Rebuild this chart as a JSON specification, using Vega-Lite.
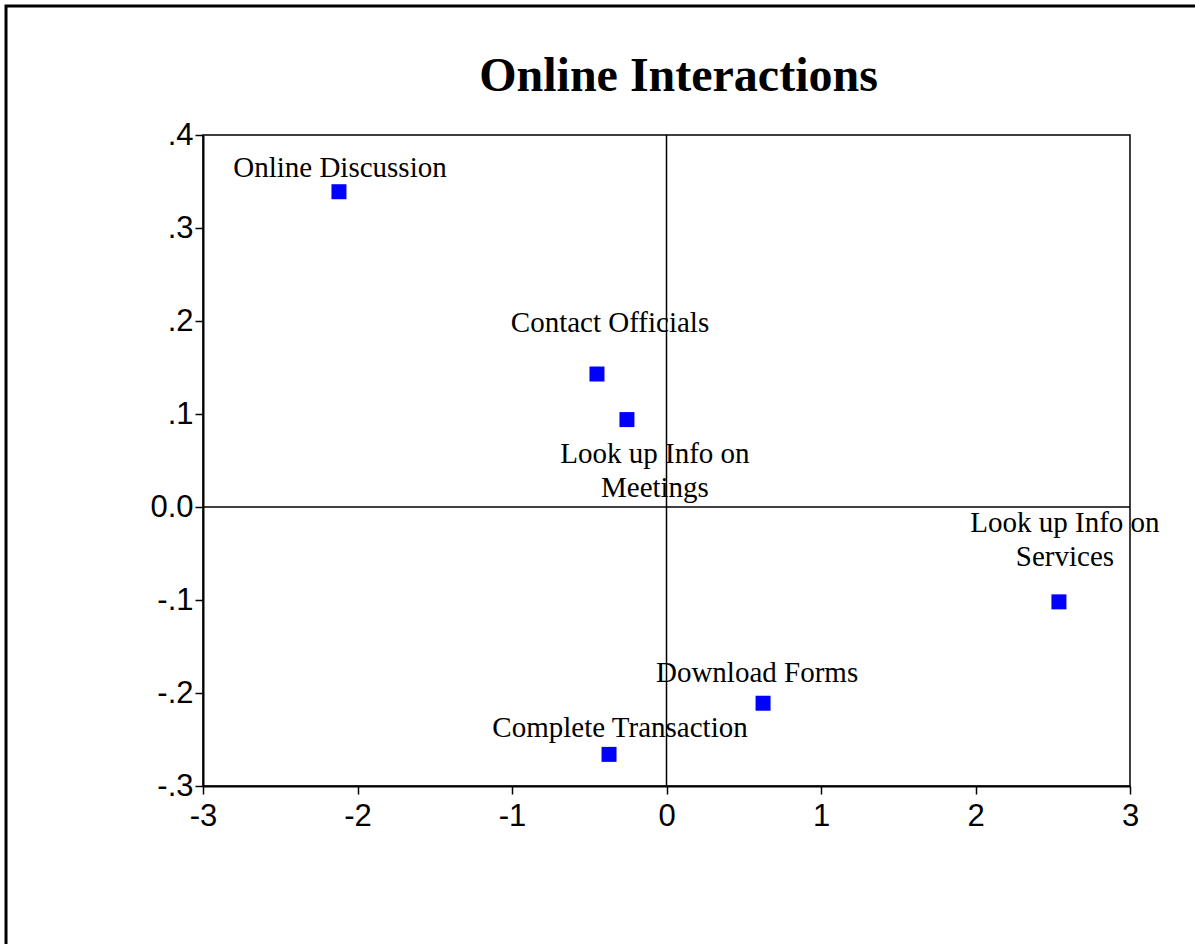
{
  "$schema": "https://vega.github.io/schema/vega-lite/v6.json",
  "width": 927,
  "height": 651,
  "autosize": {"type": "none"},
  "padding": {"left": 203, "top": 135, "right": 65, "bottom": 158},
  "background": "white",
  "title": {"text": "Online Interactions", "font": "Liberation Serif", "fontSize": 48, "fontWeight": "bold", "color": "black", "anchor": "middle", "frame": "group", "baseline": "alphabetic", "dx": 12, "offset": -134.5},
  "config": {
    "view": {"stroke": "black", "strokeWidth": 1.5},
    "axis": {"grid": false, "title": null, "tickSize": 8, "tickColor": "black", "tickWidth": 1.5, "domainColor": "black", "domainWidth": 2, "labelFont": "Liberation Sans", "labelFontSize": 31, "labelColor": "black", "labelFlush": false, "labelOverlap": false}
  },
  "data": {"values": [
    {"label": "Online Discussion", "x": -2.12, "y": 0.339},
    {"label": "Contact Officials", "x": -0.45, "y": 0.143},
    {"label": "Look up Info on\nMeetings", "x": -0.256, "y": 0.094},
    {"label": "Look up Info on\nServices", "x": 2.54, "y": -0.102},
    {"label": "Download Forms", "x": 0.625, "y": -0.211},
    {"label": "Complete Transaction", "x": -0.372, "y": -0.266}
  ]},
  "layer": [
    {
      "mark": {"type": "point", "shape": "square", "filled": true, "color": "#0000FF", "size": 225, "opacity": 1},
      "encoding": {
        "x": {"field": "x", "type": "quantitative", "scale": {"domain": [-3, 3], "nice": false, "zero": false},
              "axis": {"values": [-3, -2, -1, 0, 1, 2, 3], "labelPadding": 7, "labelExpr": "(datum.value < 0 ? '-' : '') + format(abs(datum.value), 'd')"}},
        "y": {"field": "y", "type": "quantitative", "scale": {"domain": [-0.3, 0.4], "nice": false, "zero": false},
              "axis": {"values": [-0.3, -0.2, -0.1, 0, 0.1, 0.2, 0.3, 0.4], "labelPadding": 2, "labelExpr": "datum.value == 0 ? '0.0' : (datum.value < 0 ? '-' : '') + '.' + format(abs(datum.value) * 10, '.0f')"}}
      }
    },
    {
      "data": {"values": [{}]},
      "mark": {"type": "rect", "filled": false, "stroke": "black", "strokeWidth": 3},
      "encoding": {
        "x": {"datum": -4.275},
        "x2": {"datum": 10},
        "y": {"datum": 0.5387},
        "y2": {"datum": -1.5}
      }
    },
    {
      "data": {"values": [{}]},
      "mark": {"type": "rule", "color": "black", "strokeWidth": 1.5},
      "encoding": {"x": {"datum": 0}}
    },
    {
      "data": {"values": [{}]},
      "mark": {"type": "rule", "color": "black", "strokeWidth": 1.5},
      "encoding": {"y": {"datum": 0}}
    },
    {
      "transform": [{"filter": "datum.label == 'Online Discussion'"}],
      "mark": {"type": "text", "font": "Liberation Serif", "fontSize": 29, "color": "black", "align": "center", "baseline": "alphabetic", "lineBreak": "\n", "lineHeight": 34, "dx": 1, "dy": -15},
      "encoding": {"x": {"field": "x", "type": "quantitative"}, "y": {"field": "y", "type": "quantitative"}, "text": {"field": "label"}}
    },
    {
      "transform": [{"filter": "datum.label == 'Contact Officials'"}],
      "mark": {"type": "text", "font": "Liberation Serif", "fontSize": 29, "color": "black", "align": "center", "baseline": "alphabetic", "lineBreak": "\n", "lineHeight": 34, "dx": 13, "dy": -42},
      "encoding": {"x": {"field": "x", "type": "quantitative"}, "y": {"field": "y", "type": "quantitative"}, "text": {"field": "label"}}
    },
    {
      "transform": [{"filter": "datum.label == 'Look up Info on\\nMeetings'"}],
      "mark": {"type": "text", "font": "Liberation Serif", "fontSize": 29, "color": "black", "align": "center", "baseline": "alphabetic", "lineBreak": "\n", "lineHeight": 34, "dx": 28, "dy": 43},
      "encoding": {"x": {"field": "x", "type": "quantitative"}, "y": {"field": "y", "type": "quantitative"}, "text": {"field": "label"}}
    },
    {
      "transform": [{"filter": "datum.label == 'Look up Info on\\nServices'"}],
      "mark": {"type": "text", "font": "Liberation Serif", "fontSize": 29, "color": "black", "align": "center", "baseline": "alphabetic", "lineBreak": "\n", "lineHeight": 34, "dx": 6, "dy": -70},
      "encoding": {"x": {"field": "x", "type": "quantitative"}, "y": {"field": "y", "type": "quantitative"}, "text": {"field": "label"}}
    },
    {
      "transform": [{"filter": "datum.label == 'Download Forms'"}],
      "mark": {"type": "text", "font": "Liberation Serif", "fontSize": 29, "color": "black", "align": "center", "baseline": "alphabetic", "lineBreak": "\n", "lineHeight": 34, "dx": -6, "dy": -21},
      "encoding": {"x": {"field": "x", "type": "quantitative"}, "y": {"field": "y", "type": "quantitative"}, "text": {"field": "label"}}
    },
    {
      "transform": [{"filter": "datum.label == 'Complete Transaction'"}],
      "mark": {"type": "text", "font": "Liberation Serif", "fontSize": 29, "color": "black", "align": "center", "baseline": "alphabetic", "lineBreak": "\n", "lineHeight": 34, "dx": 11, "dy": -17},
      "encoding": {"x": {"field": "x", "type": "quantitative"}, "y": {"field": "y", "type": "quantitative"}, "text": {"field": "label"}}
    }
  ]
}
